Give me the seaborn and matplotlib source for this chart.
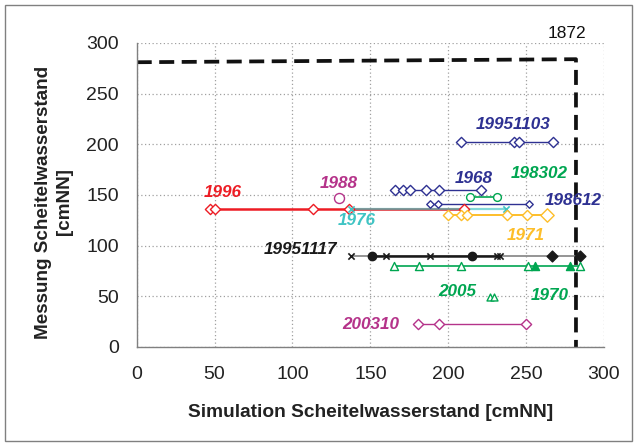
import matplotlib
matplotlib.use("Agg")
import matplotlib.pyplot as plt
import seaborn as sns
import pandas as pd
from matplotlib.patches import Rectangle

# ---------------- data ----------------
x_19951103 = [208, 242, 245.5, 267]
y_19951103 = [202, 202, 202, 202]

x_1968 = [166, 171, 175.5, 186, 194, 221]
y_1968 = [155, 155, 155, 155, 155, 155]

x_198612 = [188, 193.5, 252]
y_198612 = [141, 141, 141]

x_198302 = [214, 231]
y_198302 = [148, 148]

x_1988 = [130]
y_1988 = [147]

x_1996 = [47, 50, 113, 136, 210]
y_1996 = [136, 136, 136, 136, 136]

x_1976 = [137.5, 237]
y_1976 = [136, 136]

x_1971 = [200, 208, 212, 237.5, 250.5, 263.5]
y_1971 = [130, 130, 130, 130, 130, 130]

# 19951117: x-markers, filled circles, filled diamonds
x_19951117_x = [137.5, 160, 188, 231.5, 233.5]
x_19951117_o = [151, 215]
x_19951117_d = [266.5, 284.5]
y_19951117 = 90
x_19951117_core = [151, 160, 188, 215, 232]   # black (thick) segment

x_1970_open = [165, 181.5, 208, 251, 284.5]
x_1970_fill = [256, 278.3]
y_1970 = 80

x_2005 = [227, 229.5]
y_2005 = [49, 49]

x_200310 = [180.5, 194, 250]
y_200310 = [23, 23, 23]

# envelope line labelled 1872
x_1872 = [0, 282, 282]
y_1872 = [281, 284, 0]

x_ticks = [0, 50, 100, 150, 200, 250, 300]
y_ticks = [0, 50, 100, 150, 200, 250, 300]

labels = ["19951103", "1968", "198302", "198612", "1996", "1988", "1976",
          "1971", "19951117", "2005", "1970", "200310"]

# ---------------- style ----------------
RED = "#ED1C24"
MAG = "#B5338A"
NAVY = "#2E3192"
GREEN = "#00A651"
TEAL = "#40C4C4"
GOLD = "#FDBE2A"
BLACK = "#1A1A1A"

sns.set_theme(style="white")
plt.rcParams["font.family"] = ["Liberation Sans", "DejaVu Sans"]

fig = plt.figure(figsize=(6.35, 4.44), dpi=100)
ax = fig.add_axes([0.2153, 0.2185, 0.9512 - 0.2153, 0.9032 - 0.2185])

def df(xs, ys):
    if not isinstance(ys, (list, tuple)):
        ys = [ys] * len(xs)
    return pd.DataFrame({"x": xs, "y": ys})

def line(xs, ys, color, lw=1.0, alpha=1.0, **kw):
    sns.lineplot(data=df(xs, ys), x="x", y="y", ax=ax, color=color, lw=lw,
                 sort=False, estimator=None, alpha=alpha, **kw)

def marks(xs, ys, marker, color, size, filled=False, mew=1.0):
    d = df(xs, ys)
    if filled:
        sns.scatterplot(data=d, x="x", y="y", ax=ax, marker=marker, s=size**2,
                        color=color, edgecolor=color, linewidth=mew, zorder=5)
    elif marker == "x":
        sns.scatterplot(data=d, x="x", y="y", ax=ax, marker=marker, s=size**2,
                        color=color, linewidth=mew, zorder=5)
    else:
        sns.scatterplot(data=d, x="x", y="y", ax=ax, marker=marker, s=size**2,
                        facecolor="white", edgecolor=color, linewidth=mew, zorder=5)

# envelope
line(x_1872, y_1872, "#111111", lw=2.7)
ax.lines[-1].set_linestyle((0, (4.0, 2.0)))

DS = 5.2  # diamond size
# series
line(x_19951103, y_19951103, NAVY, lw=1.0)
marks(x_19951103, y_19951103, "D", NAVY, DS)

line(x_1968, y_1968, NAVY, lw=1.0)
marks(x_1968, y_1968, "D", NAVY, DS)

line(x_198612, y_198612, NAVY, lw=1.0)
marks(x_198612, y_198612, "D", NAVY, 3.8)

line(x_198302, y_198302, GREEN, lw=1.2)
marks(x_198302, y_198302, "o", GREEN, 5.6)

marks(x_1988, y_1988, "o", MAG, 7.2)

line(x_1996, y_1996, RED, lw=1.8)
marks(x_1996, y_1996, "D", RED, DS)

line(x_1976, y_1976, TEAL, lw=1.6, alpha=0.65)
marks(x_1976, y_1976, "x", TEAL, 4.5, mew=1.2)

line(x_1971, y_1971, GOLD, lw=1.4)
marks(x_1971[:-1], y_1971[:-1], "D", GOLD, DS)
marks(x_1971[-1:], y_1971[-1:], "D", GOLD, 6.8)

xs_all = sorted(x_19951117_x + x_19951117_o + x_19951117_d)
line(xs_all, y_19951117, "#8C8C8C", lw=1.3)
line(x_19951117_core, y_19951117, BLACK, lw=1.8)
marks(x_19951117_x, y_19951117, "x", BLACK, 4.5, mew=1.2)
marks(x_19951117_o, y_19951117, "o", BLACK, 6, filled=True)
marks(x_19951117_d, y_19951117, "D", BLACK, 5.5, filled=True)

xs70 = sorted(x_1970_open + x_1970_fill)
line(xs70, y_1970, GREEN, lw=1.2)
marks(x_1970_open, y_1970, "^", GREEN, 5.8)
marks(x_1970_fill, y_1970, "^", GREEN, 5.8, filled=True)

marks(x_2005, y_2005, "^", GREEN, 5)

line(x_200310, y_200310, MAG, lw=1.0)
marks(x_200310, y_200310, "D", MAG, DS)

# labels (colour, position)
label_style = {
    "19951103": (NAVY, 241.5, 220),
    "1968": (NAVY, 216.5, 166.5),
    "198302": (GREEN, 258.5, 171),
    "198612": (NAVY, 280, 144.5),
    "1996": (RED, 55, 152),
    "1988": (MAG, 130, 161.5),
    "1976": (TEAL, 141, 124.5),
    "1971": (GOLD, 249.5, 110.5),
    "19951117": (BLACK, 105, 96),
    "2005": (GREEN, 206, 54.5),
    "1970": (GREEN, 265, 50.5),
    "200310": (MAG, 150.5, 21.7),
}
for t in labels:
    c, lx, ly = label_style[t]
    ax.text(lx, ly, t, color=c, fontsize=12.3, fontweight="bold", style="italic",
            ha="center", va="center", zorder=6)
ax.text(276, 309, "1872", color="#111111", fontsize=12.5, ha="center", va="center")

# axes
ax.set_xlim(0, 300)
ax.set_ylim(0, 300)
ax.set_xticks(x_ticks)
ax.set_yticks(y_ticks)
ax.tick_params(axis="both", direction="out", length=4, width=1, color="#808080",
               labelsize=14, labelcolor="#222222")
ax.tick_params(axis="x", pad=10)
ax.tick_params(axis="y", pad=9)
ax.grid(True, linestyle=(0, (1, 2)), color="#A0A0A0", linewidth=0.9)
for s in ["top", "right"]:
    ax.spines[s].set_visible(False)
for s in ["left", "bottom"]:
    ax.spines[s].set_color("#808080")
    ax.spines[s].set_linewidth(1)
ax.set_xlabel("")
ax.set_ylabel("")
fig.text(371 / 635, 1 - 412 / 444, "Simulation Scheitelwasserstand [cmNN]",
         ha="center", va="center", fontsize=13.8, fontweight="bold", color="#222222")
fig.text(54 / 635, 1 - 202 / 444, "Messung Scheitelwasserstand\n[cmNN]",
         ha="center", va="center", fontsize=13.6, fontweight="bold", color="#222222",
         rotation=90, linespacing=1.25)

fig.patches.append(Rectangle((5 / 635, 3 / 444), 627 / 635, 436 / 444,
                             transform=fig.transFigure, fill=False,
                             edgecolor="#808080", linewidth=1))

fig.savefig("out.png", dpi=100)
